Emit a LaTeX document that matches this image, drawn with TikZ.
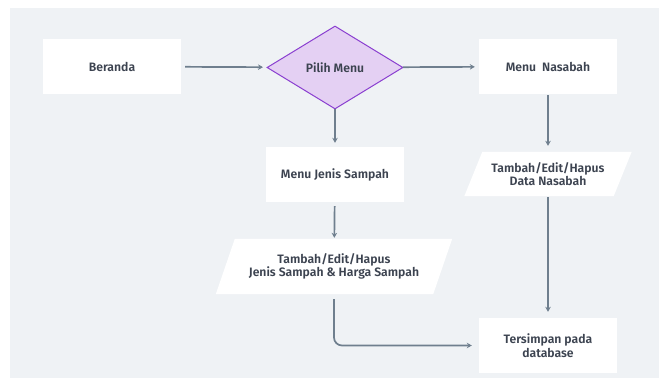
\documentclass[tikz,border=0pt]{standalone}
\usepackage{fontspec}
\setmainfont{Fira Sans}[BoldFont={Fira Sans SemiBold}]
\usetikzlibrary{shapes.geometric,arrows.meta,calc}
\definecolor{bgc}{HTML}{EFF2F5}
\definecolor{txt}{HTML}{3C4350}
\definecolor{arr}{HTML}{6F7F8E}
\definecolor{dfill}{HTML}{E4D0F3}
\definecolor{dline}{HTML}{8A3FD0}
\tikzset{
  lbl/.style={font=\fontsize{12.2}{13.5}\selectfont\bfseries, text=txt, align=center},
  box/.style={lbl, fill=white, minimum width=138pt, minimum height=55pt, inner sep=0pt},
  pframe/.style={inner sep=0pt},
  ptext/.style={lbl, inner sep=0pt},
  dec/.style={lbl, diamond, draw=dline, fill=dfill, line width=1pt, minimum width=136pt, minimum height=83pt, inner sep=0pt, aspect=1.64},
  conn/.style={draw=arr, line width=1.7pt, -{Stealth[length=5pt,width=5.5pt]}, shorten >=4pt, shorten <=4pt},
}
\begin{document}
\begin{tikzpicture}[x=1pt,y=1pt]
\useasboundingbox (0,0) rectangle (659,378);
\fill[white] (0,0) rectangle (659,378);
\fill[bgc] (10,0) rectangle (659,370);
% nodes
\node[box] (ber) at (112,311.5) {Beranda};
\node[dec] (pil) at (335,310.5) {Pilih Menu};
\node[box] (nas) at (548,311.5) {Menu\ \ Nasabah};
\node[box] (jen) at (335,203.5) {Menu Jenis Sampah};
% parallelogram 1
\node[pframe, minimum width=217pt, minimum height=55pt] (p1) at (334,111.5) {};
\fill[white] ($(p1.south west)+(-9.5,0)$) -- ($(p1.south east)+(-9.5,0)$) -- ($(p1.north east)+(9.5,0)$) -- ($(p1.north west)+(9.5,0)$) -- cycle;
\node[ptext] (p1t) at (p1.center) {Tambah/Edit/Hapus\\Jenis Sampah \& Harga Sampah};
% parallelogram 2
\node[pframe, minimum width=149pt, minimum height=44pt] (p2) at (548,204) {};
\fill[white] ($(p2.south west)+(-9,0)$) -- ($(p2.south east)+(-9,0)$) -- ($(p2.north east)+(9,0)$) -- ($(p2.north west)+(9,0)$) -- cycle;
\node[ptext] (p2t) at (p2.center) {Tambah/Edit/Hapus\\Data Nasabah};
\node[box] (ter) at (548,32.5) {Tersimpan pada\\database};
% connectors
\draw[conn] (ber) -- (pil);
\draw[conn, shorten <=0pt] (pil) -- (nas);
\draw[conn, shorten <=0pt] (pil) -- (jen);
\draw[conn, shorten >=1pt] (jen) -- (p1);
\draw[conn, shorten >=6pt, shorten <=1pt] (nas) -- (p2);
\draw[conn, shorten >=6pt, shorten <=1pt] (p2) -- (ter);
\draw[conn, rounded corners=8pt, shorten >=7pt, shorten <=5pt] (p1.south) |- (ter.west);
\end{tikzpicture}
\end{document}
